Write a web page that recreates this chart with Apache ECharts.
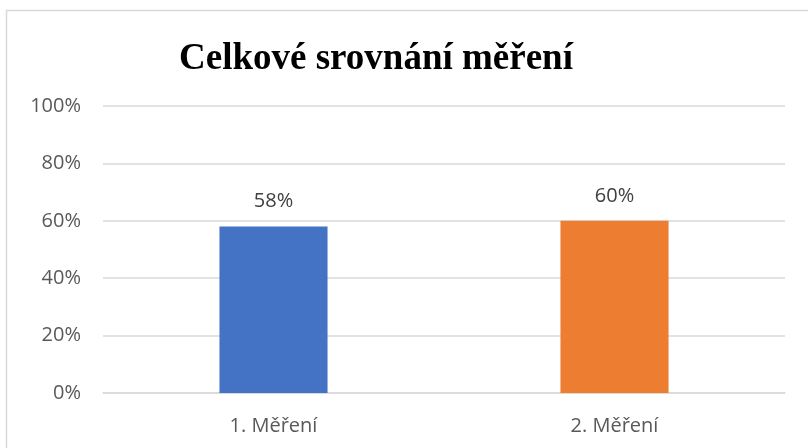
<!DOCTYPE html>
<html>
<head>
<meta charset="utf-8">
<script src="https://cdn.jsdelivr.net/npm/echarts@6/dist/echarts.min.js"></script>
<style>
  html, body { margin: 0; padding: 0; background: #fff; }
  #chart { width: 808px; height: 448px; }
</style>
</head>
<body>
<div id="chart"></div>
<script>
// data
const categories = ["1. Měření", "2. Měření"];
const values = [58, 60];
const barColors = ["#4472c4", "#ed7d31"];

const chart = echarts.init(document.getElementById("chart"));

const option = {
  animation: false,
  graphic: [
    {
      type: "rect",
      shape: { x: 6.5, y: 10.5, width: 820, height: 460 },
      style: { fill: "none", stroke: "#d9d9d9", lineWidth: 1.5 },
      silent: true
    }
  ],
  title: {
    text: "Celkové srovnání měření",
    left: 174,
    top: 36,
    textStyle: {
      fontFamily: "Liberation Serif",
      fontWeight: "bold",
      fontSize: 37,
      color: "#000"
    }
  },
  grid: {
    left: 103,
    right: 23,
    top: 106,
    bottom: 55
  },
  xAxis: {
    type: "category",
    data: categories,
    axisLine: { show: true, lineStyle: { color: "#d9d9d9", width: 1.5 } },
    axisTick: { show: false },
    axisLabel: {
      color: "#595959",
      fontFamily: "Open Sans",
      fontSize: 20,
      margin: 23
    }
  },
  yAxis: {
    type: "value",
    min: 0,
    max: 100,
    interval: 20,
    axisLine: { show: false },
    axisTick: { show: false },
    splitLine: { lineStyle: { color: "#d9d9d9", width: 1.5 } },
    axisLabel: {
      color: "#595959",
      fontFamily: "Open Sans",
      fontSize: 20,
      margin: 22,
      formatter: "{value}%"
    }
  },
  series: [
    {
      type: "bar",
      data: values.map((v, i) => ({ value: v, itemStyle: { color: barColors[i] } })),
      barWidth: "31.7%",
      label: {
        show: true,
        position: "top",
        distance: 15,
        color: "#404040",
        fontFamily: "Open Sans",
        fontSize: 20,
        formatter: "{c}%"
      }
    }
  ]
};

chart.setOption(option);
</script>
</body>
</html>
